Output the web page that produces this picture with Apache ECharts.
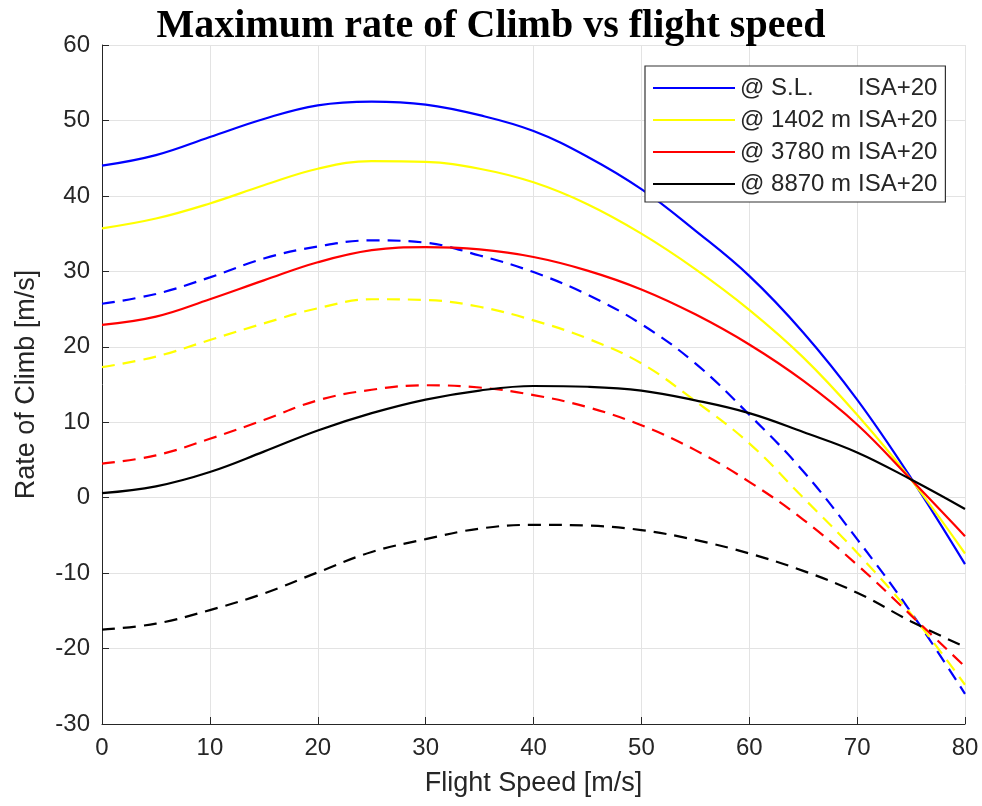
<!DOCTYPE html>
<html>
<head>
<meta charset="utf-8">
<script src="https://cdn.jsdelivr.net/npm/echarts@6/dist/echarts.min.js"></script>
<style>
html,body{margin:0;padding:0;background:#fff;}
#chart{width:982px;height:806px;}
</style>
</head>
<body>
<div id="chart"></div>
<script>
// Flight speed samples [m/s]
const speeds = [0,5,10,15,20,25,30,35,40,45,50,55,60,65,70,75,80];

// Solid curves
const slSolid    = [44.0,45.4,47.8,50.2,52.0,52.5,52.1,50.7,48.6,45.2,40.9,35.4,29.4,21.9,13.0,2.6,-8.8];
const m1402Solid = [35.7,37.0,39.0,41.4,43.6,44.6,44.5,43.6,41.8,38.9,35.0,30.3,24.9,18.6,11.0,2.4,-7.4];
const m3780Solid = [22.9,24.0,26.3,28.8,31.2,32.8,33.2,32.9,31.9,30.1,27.6,24.3,20.3,15.5,9.7,2.4,-5.1];
const m8870Solid = [0.6,1.5,3.4,6.1,8.9,11.2,13.0,14.2,14.8,14.7,14.2,12.9,11.2,8.7,6.0,2.4,-1.5];

// Dashed curves
const slDash    = [25.7,27.0,29.2,31.7,33.3,34.1,33.8,32.1,29.9,26.9,23.0,17.8,11.0,3.5,-5.5,-15.2,-26.0];
const m1402Dash = [17.3,18.7,20.9,23.1,25.1,26.3,26.2,25.3,23.5,21.1,17.8,12.8,7.2,0.0,-7.3,-15.4,-24.8];
const m3780Dash = [4.5,5.6,7.8,10.3,12.9,14.3,14.9,14.6,13.6,12.0,9.6,6.3,2.1,-2.9,-8.9,-15.6,-22.4];
const m8870Dash = [-17.5,-16.7,-14.9,-12.7,-9.9,-7.2,-5.5,-4.1,-3.6,-3.7,-4.3,-5.6,-7.4,-9.7,-12.6,-16.4,-19.8];

const legendNames = ['@ S.L. ISA+20','@ 1402 m ISA+20','@ 3780 m ISA+20','@ 8870 m ISA+20'];
const xTicks = [0,10,20,30,40,50,60,70,80];
const yTicks = [-30,-20,-10,0,10,20,30,40,50,60];

const colors = ['#0000ff','#ffff00','#ff0000','#000000'];
const solids = [slSolid,m1402Solid,m3780Solid,m8870Solid];
const dashes = [slDash,m1402Dash,m3780Dash,m8870Dash];

function pairs(arr){ return speeds.map((s,i)=>[s,arr[i]]); }

const series = [];
solids.forEach((d,i)=>{
  series.push({
    name: legendNames[i], type:'line', data: pairs(d), smooth:0.4,
    symbol:'none', lineStyle:{color:colors[i], width:2.2, type:'solid'},
    itemStyle:{color:colors[i]}, z:3
  });
});
dashes.forEach((d,i)=>{
  series.push({
    name: legendNames[i]+' (dashed)', type:'line', data: pairs(d), smooth:0.4,
    symbol:'none', lineStyle:{color:colors[i], width:2.2, type:[13,8]},
    itemStyle:{color:colors[i]}, z:2
  });
});

const chart = echarts.init(document.getElementById('chart'), null, {renderer:'canvas'});
chart.setOption({
  backgroundColor:'#ffffff',
  animation:false,
  title:{
    text:'Maximum rate of Climb vs flight speed',
    left:'center', top:2,
    textStyle:{fontFamily:'Liberation Serif', fontWeight:'bold', fontSize:40, color:'#000'}
  },
  grid:{left:102, right:17, top:45, bottom:82, containLabel:false},
  legend:{
    data: legendNames,
    orient:'vertical', left:645, top:66,
    backgroundColor:'#fff', borderColor:'#333', borderWidth:1.2,
    padding:[10,8,6,8], itemGap:8, itemWidth:82, itemHeight:14,
    icon:'path://M0,6 L82,6 L82,8.2 L0,8.2 Z',
    formatter: function(name){
      const k = name.lastIndexOf(' ISA');
      const pre = name.slice(0,k);
      const post = name.slice(k+1);
      return '{a|'+pre+'}{b|'+post+'}';
    },
    textStyle:{
      fontFamily:'Liberation Sans', fontSize:24, color:'#262626', lineHeight:24,
      rich:{
        a:{fontFamily:'Liberation Sans', fontSize:24, color:'#262626', width:118},
        b:{fontFamily:'Liberation Sans', fontSize:24, color:'#262626'}
      }
    }
  },
  xAxis:{
    type:'value', min:0, max:80, interval:10,
    name:'Flight Speed [m/s]', nameLocation:'middle', nameGap:46,
    nameTextStyle:{fontFamily:'Liberation Sans', fontSize:27, color:'#262626'},
    axisLine:{show:true, onZero:false, lineStyle:{color:'#262626', width:1}},
    axisTick:{show:true, inside:true, length:7, lineStyle:{color:'#262626'}},
    axisLabel:{fontFamily:'Liberation Sans', fontSize:24, color:'#262626', margin:12,
      formatter: v => xTicks.includes(v) ? String(v) : ''},
    splitLine:{show:true, lineStyle:{color:'#e3e3e3', width:1}}
  },
  yAxis:{
    type:'value', min:-30, max:60, interval:10,
    name:'Rate of Climb [m/s]', nameLocation:'middle', nameGap:62,
    nameTextStyle:{fontFamily:'Liberation Sans', fontSize:27, color:'#262626'},
    axisLine:{show:true, onZero:false, lineStyle:{color:'#262626', width:1}},
    axisTick:{show:true, inside:true, length:7, lineStyle:{color:'#262626'}},
    axisLabel:{fontFamily:'Liberation Sans', fontSize:24, color:'#262626', margin:12,
      formatter: v => yTicks.includes(v) ? String(v) : ''},
    splitLine:{show:true, lineStyle:{color:'#e3e3e3', width:1}}
  },
  series: series
});
</script>
</body>
</html>
